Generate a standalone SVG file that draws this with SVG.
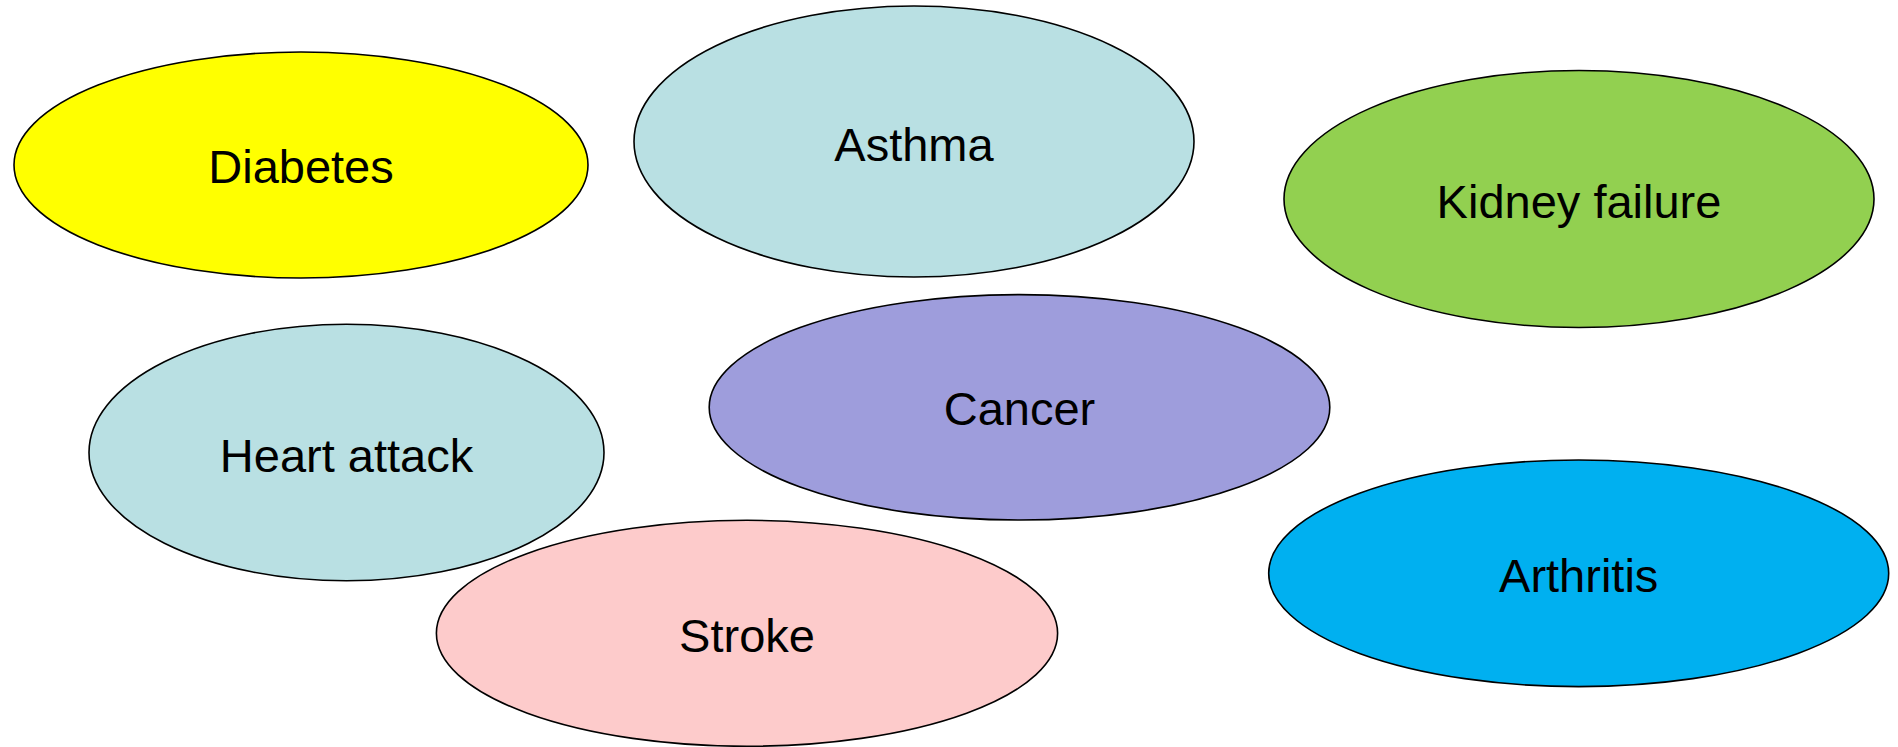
<svg xmlns="http://www.w3.org/2000/svg" width="1898" height="747" viewBox="0 0 1898 747">
<style>
.n ellipse{stroke:#000;stroke-width:1.6}
.n text{font-family:"Liberation Sans",Arial,sans-serif;font-size:47px;fill:#000;text-anchor:middle}
</style>
<rect width="1898" height="747" fill="#fff"/>
<g id="connectors"/>
<g id="diabetes" class="n"><ellipse cx="301" cy="165" rx="287" ry="113" fill="#FFFF00"/><text x="301" y="183">Diabetes</text></g>
<g id="asthma" class="n"><ellipse cx="914" cy="141.5" rx="280" ry="135.5" fill="#B9E0E3"/><text x="914" y="160.5">Asthma</text></g>
<g id="kidney" class="n"><ellipse cx="1579" cy="199" rx="295" ry="128.5" fill="#92D050"/><text x="1579" y="218">Kidney failure</text></g>
<g id="heart" class="n"><ellipse cx="346.5" cy="452.5" rx="257.5" ry="128.3" fill="#B9E0E3"/><text x="346.5" y="471.5">Heart attack</text></g>
<g id="cancer" class="n"><ellipse cx="1019.5" cy="407.3" rx="310.3" ry="112.7" fill="#9E9DDC"/><text x="1019.5" y="425">Cancer</text></g>
<g id="stroke" class="n"><ellipse cx="747" cy="633.3" rx="310.6" ry="113" fill="#FDCBCB"/><text x="747" y="651.5">Stroke</text></g>
<g id="arthritis" class="n"><ellipse cx="1578.7" cy="573.3" rx="310" ry="113.3" fill="#00B0F0"/><text x="1578.7" y="591.5">Arthritis</text></g>
</svg>
